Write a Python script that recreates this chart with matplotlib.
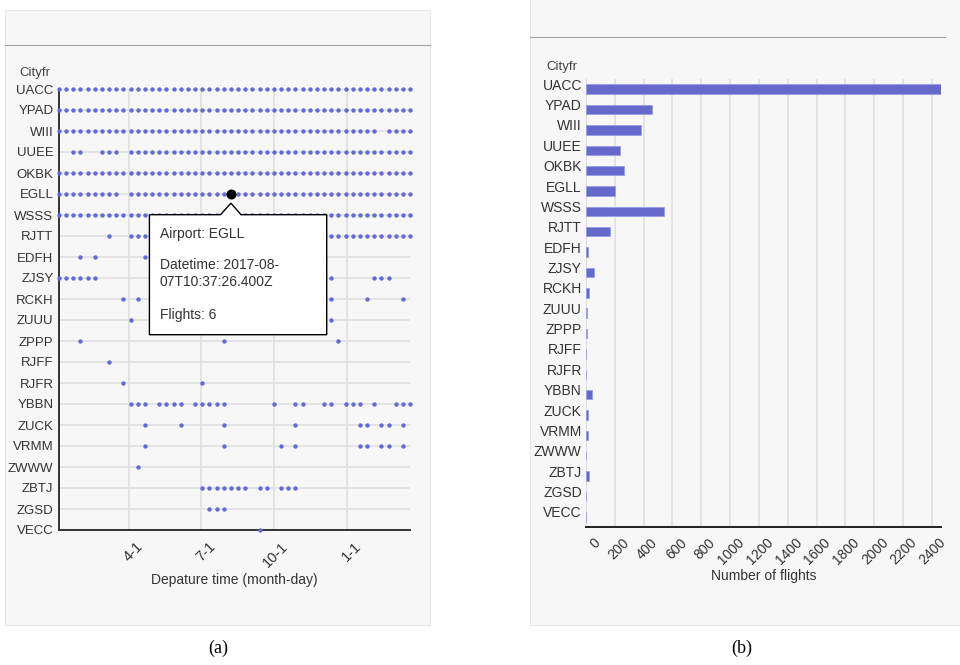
import numpy as np
import matplotlib
matplotlib.use('Agg')
import matplotlib.pyplot as plt
import matplotlib.dates as mdates
from matplotlib.patches import Rectangle, Polygon
from matplotlib.lines import Line2D
from matplotlib.transforms import ScaledTranslation, IdentityTransform

plt.rcParams['font.family'] = ['Liberation Sans', 'DejaVu Sans']

# airports (top to bottom) and total flights per airport
airports = ['UACC', 'YPAD', 'WIII', 'UUEE', 'OKBK', 'EGLL', 'WSSS', 'RJTT', 'EDFH', 'ZJSY', 'RCKH',
            'ZUUU', 'ZPPP', 'RJFF', 'RJFR', 'YBBN', 'ZUCK', 'VRMM', 'ZWWW', 'ZBTJ', 'ZGSD', 'VECC']
flights = [2462, 460, 380, 238, 266, 204, 539, 164, 12, 53, 23, 9, 4, 1, 2, 39, 14, 12, 1, 18, 3, 1]

# departures per ~9 day time bin, one char per bin ('1' = at least one flight)
dot_rows = [
    '1111111111 1111111111 1111111111 1111111111 1111111111',  # UACC
    '1111111111 1111111111 1111111111 1111111111 1111111111',  # YPAD
    '1111111111 1111111111 1111111111 1111111111 1111101111',  # WIII
    '0011001110 1111111111 1111111111 1111111111 1111111111',  # UUEE
    '1111111111 1111111111 1111111111 1111111111 1111111111',  # OKBK
    '1111111110 1111111111 1111111111 1111111111 1111111111',  # EGLL
    '1111111111 1111111111 1111111111 1111111111 1111111111',  # WSSS
    '0000000100 1111111111 1111111111 1111111111 1111111111',  # RJTT
    '0001010000 0010000000 0000000000 0000000000 0000000000',  # EDFH
    '1111110000 0000000000 0000000000 0000000010 0000111000',  # ZJSY
    '0000000001 0100000000 0000000000 0000000010 0001000010',  # RCKH
    '0000000000 1000000000 0000000000 0000000010 0000000000',  # ZUUU
    '0001000000 0000000000 0001000000 0000000001 0000000000',  # ZPPP
    '0000000100 0000000000 0000000000 0000000000 0000000000',  # RJFF
    '0000000001 0000000000 1000000000 0000000000 0000000000',  # RJFR
    '0000000000 1110111101 1111000000 1001100110 1110100111',  # YBBN
    '0000000000 0010000100 0001000000 0001000000 0011011010',  # ZUCK
    '0000000000 0010000000 0001000000 0101000000 0011011010',  # VRMM
    '0000000000 0100000000 0000000000 0000000000 0000000000',  # ZWWW
    '0000000000 0000000000 1111111011 0111000000 0000000000',  # ZBTJ
    '0000000000 0000000000 0111000000 0000000000 0000000000',  # ZGSD
    '0000000000 0000000000 0000000010 0000000000 0000000000',  # VECC
]
bin_start = np.datetime64('2017-01-02T05:46')
bin_step = np.timedelta64(13032, 'm')

xtick_dates = ['2017-04-01', '2017-07-01', '2017-10-01', '2018-01-01']
xtick_labels = ['4-1', '7-1', '10-1', '1-1']

# hovered point (tooltip)
tip_airport = 'EGLL'
tip_bin = 24
tip_time = '2017-08-07T10:37:26.400Z'
tip_flights = 6

W, H = 960, 665
DOT = '#6469d4'
BAR = '#6669cc'
TXT = '#333333'


def box(l, t, r, b):
    return [l / W, 1 - b / H, (r - l) / W, (b - t) / H]


fig = plt.figure(figsize=(W / 100, H / 100), dpi=100)

# panel backgrounds
fig.patches.append(Rectangle((5 / W, 1 - 625 / H), 425 / W, 615 / H, transform=fig.transFigure,
                             facecolor='#f7f7f7', edgecolor='#e6e6e6', lw=0.8, zorder=-5))
fig.patches.append(Rectangle((530 / W, 1 - 625 / H), 432 / W, 627 / H, transform=fig.transFigure,
                             facecolor='#f7f7f7', edgecolor='#e6e6e6', lw=0.8, zorder=-5))
fig.add_artist(Line2D([5 / W, 430 / W], [1 - 45 / H] * 2, color='#a0a0a0', lw=0.8))
fig.add_artist(Line2D([530 / W, 945 / W], [1 - 37 / H] * 2, color='#a0a0a0', lw=0.8))

n = len(airports)
bins = bin_start + np.arange(50) * bin_step
bin_num = mdates.date2num(bins)

# ---- (a) scatter of departures ----
ax1 = fig.add_axes(box(59, 89, 410, 530))
ax1.set_facecolor('none')
for i, row in enumerate(dot_rows):
    ks = [k for k, c in enumerate(row.replace(' ', '')) if c == '1']
    ax1.scatter(bin_num[ks], [i] * len(ks), s=10, color=DOT, lw=0, clip_on=False, zorder=3)

row_tip = airports.index(tip_airport)
ax1.scatter([bin_num[tip_bin]], [row_tip], s=52, color='black', lw=0, clip_on=False, zorder=6)

ax1.set_xlim(bin_num[0], bin_num[-1])
ax1.set_ylim(n - 1, 0)
ax1.set_yticks(range(n))
ax1.set_yticklabels(airports, fontsize=9.5, color=TXT)
ax1.set_xticks(mdates.date2num(np.array(xtick_dates, dtype='datetime64[D]')))
ax1.set_xticklabels(xtick_labels, fontsize=10.5, color=TXT, rotation=45, ha='right',
                    rotation_mode='anchor')
ax1.tick_params(axis='both', length=0)
ax1.tick_params(axis='y', pad=4)
ax1.tick_params(axis='x', pad=7)
for lab in ax1.get_xticklabels():
    lab.set_transform(lab.get_transform() + ScaledTranslation(0.07, 0, fig.dpi_scale_trans))
ax1.grid(True, color='#e0e0e0', lw=1.2)
ax1.set_axisbelow(True)
for s in ['top', 'right']:
    ax1.spines[s].set_visible(False)
for s in ['left', 'bottom']:
    ax1.spines[s].set_color('#333333')
    ax1.spines[s].set_linewidth(1.4)
ax1.set_xlabel('Depature time (month-day)', fontsize=10, color=TXT, labelpad=2)
fig.text(19 / W, 1 - 73 / H, 'Cityfr', fontsize=9.5, color='#444444', va='center', ha='left')

# tooltip box with pointer
fig.canvas.draw()
px, py = ax1.transData.transform((bin_num[tip_bin], row_tip))
pts = [(-81.5, 20.7), (-10.4, 20.7), (0, 9.2), (10.1, 20.7), (95.8, 20.7), (95.8, 140.7), (-81.5, 140.7)]
tip = Polygon([(px + dx, py - dy) for dx, dy in pts], closed=True, facecolor='white',
              edgecolor='black', lw=1.0, transform=IdentityTransform(), zorder=10)
fig.add_artist(tip)
tip_lines = [('Airport: ' + tip_airport, 39.7),
             ('Datetime: ' + tip_time[:8], 70.7),
             (tip_time[8:], 87.7),
             ('Flights: %d' % tip_flights, 120.7)]
for txt, dy in tip_lines:
    fig.text(px - 71, py - dy, txt, fontsize=10, color=TXT, va='center', ha='left',
             transform=IdentityTransform(), zorder=11)

# ---- (b) bar chart of flights ----
ax2 = fig.add_axes(box(586, 79, 940.7, 527))
ax2.set_facecolor('none')
ax2.barh(range(n), flights, height=0.46, color=BAR, edgecolor='#9a9de4', lw=0.6, zorder=3)
ax2.set_xlim(0, max(flights))
ax2.set_ylim(n - 0.5, -0.5)
ax2.set_yticks(range(n))
ax2.set_yticklabels(airports, fontsize=10, color=TXT)
ax2.set_xticks(np.arange(0, 2401, 200))
ax2.set_xticklabels([str(v) for v in np.arange(0, 2401, 200)], fontsize=10, color=TXT,
                    rotation=45, ha='right', rotation_mode='anchor')
ax2.tick_params(axis='both', length=0)
ax2.tick_params(axis='y', pad=3)
ax2.tick_params(axis='x', pad=6)
for lab in ax2.get_yticklabels():
    lab.set_transform(lab.get_transform() + ScaledTranslation(0, 0.05, fig.dpi_scale_trans))
for lab in ax2.get_xticklabels():
    lab.set_transform(lab.get_transform() + ScaledTranslation(0.07, 0, fig.dpi_scale_trans))
ax2.grid(True, axis='x', color='#e0e0e0', lw=1.2)
ax2.set_axisbelow(True)
for s in ['top', 'right']:
    ax2.spines[s].set_visible(False)
ax2.spines['left'].set_color('#dddddd')
ax2.spines['bottom'].set_color('#222222')
ax2.spines['bottom'].set_linewidth(1.4)
ax2.set_xlabel('Number of flights', fontsize=10, color=TXT, labelpad=1)
fig.text(546 / W, 1 - 67 / H, 'Cityfr', fontsize=9.5, color='#444444', va='center', ha='left')

# captions
fig.text(218 / W, 1 - 648 / H, '(a)', family=['Liberation Serif', 'DejaVu Serif'], fontsize=13,
         ha='center', va='center')
fig.text(742 / W, 1 - 648 / H, '(b)', family=['Liberation Serif', 'DejaVu Serif'], fontsize=13,
         ha='center', va='center')

fig.savefig('out.png', dpi=100)
